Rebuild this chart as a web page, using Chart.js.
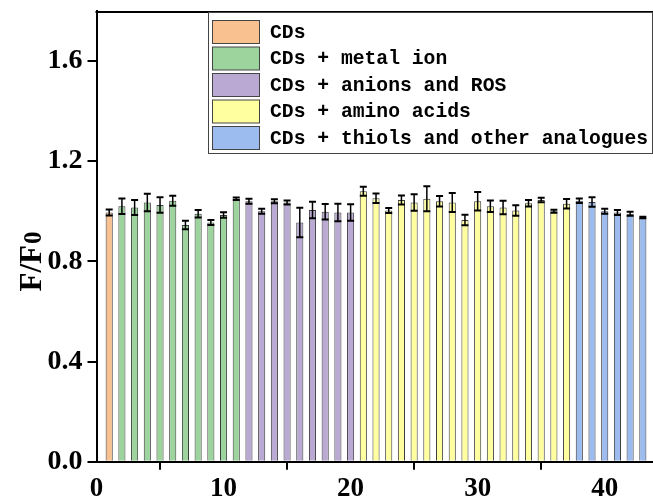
<!DOCTYPE html>
<html>
<head>
<meta charset="utf-8">
<script src="https://cdn.jsdelivr.net/npm/chart.js@4/dist/chart.umd.min.js"></script>
<style>
  html, body { margin: 0; padding: 0; background: #fff; overflow: hidden; }
</style>
</head>
<body>
<canvas id="chart" width="653" height="499"></canvas>
<script>
// groups shown in the legend, in bar order
const groupNames = [
  "CDs",
  "CDs + metal ion",
  "CDs + anions and ROS",
  "CDs + amino acids",
  "CDs + thiols and other analogues"
];
const groupColors = ["#F9C18F", "#9DD49D", "#BAAAD3", "#FFFFA0", "#9CBBEF"];
const groupSizes = [1, 10, 9, 17, 6];

// F/F0 for samples 1..43 and their error bars
const ratio = [
  0.995,
  1.02, 1.015, 1.035, 1.025, 1.042, 0.945, 0.99, 0.955, 0.985, 1.05,
  1.04, 1.0, 1.04, 1.035, 0.955, 1.005, 0.998, 0.995, 0.995,
  1.08, 1.052, 1.003, 1.045, 1.035, 1.05, 1.04, 1.035, 0.965, 1.04, 1.02, 1.015, 1.003, 1.032, 1.045, 1.0, 1.03,
  1.042, 1.037, 1.0, 0.995, 0.99, 0.975
];
const ratioErr = [
  0.012,
  0.031, 0.03, 0.035, 0.031, 0.02, 0.017, 0.015, 0.01, 0.011, 0.005,
  0.01, 0.01, 0.008, 0.008, 0.059, 0.033, 0.031, 0.035, 0.033,
  0.018, 0.019, 0.01, 0.018, 0.033, 0.05, 0.021, 0.038, 0.021, 0.037, 0.023, 0.027, 0.021, 0.013, 0.009, 0.006, 0.019,
  0.009, 0.019, 0.01, 0.01, 0.008, 0.003
];
const xTicks = [0, 10, 20, 30, 40];
const yTicks = [0.0, 0.4, 0.8, 1.2, 1.6];

// sample number and colour for each bar
const sampleNo = ratio.map((v, i) => i + 1);
const barColors = [];
groupSizes.forEach((n, g) => { for (let k = 0; k < n; k++) barColors.push(groupColors[g]); });

const serif = "'Liberation Serif', 'Times New Roman', serif";

const errorBars = {
  id: "errorBars",
  afterDatasetsDraw(chart) {
    const xs = chart.scales.x, ys = chart.scales.y;
    const ctx = chart.ctx;
    ctx.save();
    ctx.strokeStyle = "#000";
    ratio.forEach((v, i) => {
      const x = xs.getPixelForValue(sampleNo[i]);
      const top = ys.getPixelForValue(v + ratioErr[i]);
      const bot = ys.getPixelForValue(v - ratioErr[i]);
      ctx.lineWidth = 1.5;
      ctx.beginPath();
      ctx.moveTo(x, top); ctx.lineTo(x, bot);
      ctx.stroke();
      ctx.lineWidth = 2;
      ctx.beginPath();
      ctx.moveTo(x - 3.5, top); ctx.lineTo(x + 3.5, top);
      ctx.moveTo(x - 3.5, bot); ctx.lineTo(x + 3.5, bot);
      ctx.stroke();
    });
    ctx.restore();
  }
};

const frameAndLegend = {
  id: "frameAndLegend",
  afterDraw(chart) {
    const ctx = chart.ctx;
    const a = chart.chartArea;
    ctx.save();
    // top frame line
    ctx.strokeStyle = "#000";
    ctx.lineWidth = 2;
    ctx.beginPath();
    ctx.moveTo(a.left - 1, a.top + 1);
    ctx.lineTo(a.right, a.top + 1);
    ctx.stroke();

    // y axis title F/F0
    ctx.save();
    ctx.translate(41, 262);
    ctx.rotate(-Math.PI / 2);
    ctx.fillStyle = "#000";
    ctx.textBaseline = "alphabetic";
    ctx.font = "bold 31px " + serif;
    const w1 = ctx.measureText("F/F").width;
    ctx.font = "bold 25px " + serif;
    const w2 = ctx.measureText("0").width;
    let x0 = -(w1 + w2) / 2;
    ctx.font = "bold 31px " + serif;
    ctx.fillText("F/F", x0, 0);
    ctx.font = "bold 25px " + serif;
    ctx.fillText("0", x0 + w1 + 1, 0);
    ctx.restore();

    // legend box
    const lx = 208, ly = a.top + 1, lw = 444, lh = 141;
    ctx.fillStyle = "#fff";
    ctx.fillRect(lx, ly, lw, lh);
    ctx.strokeStyle = "#444";
    ctx.lineWidth = 1;
    ctx.strokeRect(lx + 0.5, ly + 0.5, lw, lh);
    ctx.font = "bold 19.7px 'Liberation Mono', 'Courier New', monospace";
    ctx.textBaseline = "middle";
    groupNames.forEach((name, g) => {
      const cy = a.top + 21 + g * 26.5;
      ctx.fillStyle = groupColors[g];
      ctx.fillRect(212, cy - 11.5, 47, 23);
      ctx.strokeStyle = "#444";
      ctx.strokeRect(212.5, cy - 11.5, 47, 23);
      ctx.fillStyle = "#000";
      ctx.fillText(name, 270, cy + 1);
    });
    ctx.restore();
  }
};

new Chart(document.getElementById("chart"), {
  type: "bar",
  data: {
    datasets: [{
      label: "F/F0",
      data: sampleNo.map((x, i) => ({ x: x, y: ratio[i] })),
      backgroundColor: barColors,
      borderColor: "#3c3c3c",
      borderWidth: 1,
      barPercentage: 0.56,
      categoryPercentage: 1.0
    }]
  },
  options: {
    responsive: false,
    animation: false,
    layout: { padding: { top: 11, right: 0, bottom: 0, left: 0 } },
    plugins: {
      legend: { display: false },
      tooltip: { enabled: false }
    },
    scales: {
      x: {
        type: "linear",
        min: 0,
        max: 43.8,
        offset: false,
        afterBuildTicks(scale) { scale.ticks = xTicks.map(v => ({ value: v })); },
        afterFit(scale) { scale.height = 37.3; scale.paddingLeft = 0; scale.paddingRight = 0; },
        border: { display: true, color: "#000", width: 2 },
        grid: { display: true, drawOnChartArea: false, drawTicks: true, tickLength: 8, color: "#000", lineWidth: 2 },
        ticks: {
          color: "#000",
          padding: 3,
          maxRotation: 0,
          font: { family: serif, size: 27, weight: "bold" }
        }
      },
      y: {
        min: 0,
        max: 1.8,
        afterBuildTicks(scale) { scale.ticks = yTicks.map(v => ({ value: v })); },
        afterFit(scale) { scale.width = 96.5; scale.paddingTop = 0; scale.paddingBottom = 0; },
        border: { display: true, color: "#000", width: 2 },
        grid: { display: true, drawOnChartArea: false, drawTicks: true, tickLength: 9, color: "#000", lineWidth: 2 },
        ticks: {
          color: "#000",
          padding: 5,
          callback: v => v.toFixed(1),
          font: { family: serif, size: 28, weight: "bold" }
        }
      }
    }
  },
  plugins: [errorBars, frameAndLegend]
});
</script>
</body>
</html>
